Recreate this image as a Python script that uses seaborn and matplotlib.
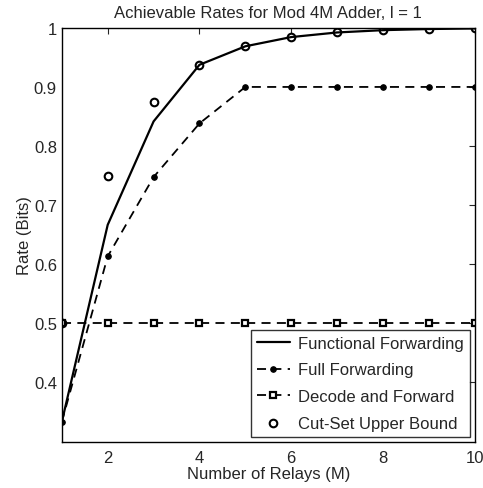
import numpy as np
import pandas as pd
import seaborn as sns
import matplotlib.pyplot as plt

# Data
relays = [1, 2, 3, 4, 5, 6, 7, 8, 9, 10]
functional = [0.3333, 0.6667, 0.8417, 0.9375, 0.9688, 0.9844, 0.9922, 0.9961, 0.9980, 0.9990]
full_fwd = [0.3333, 0.6133, 0.7475, 0.8383, 0.9, 0.9, 0.9, 0.9, 0.9, 0.9]
decode_fwd = [0.5, 0.5, 0.5, 0.5, 0.5, 0.5, 0.5, 0.5, 0.5, 0.5]
cut_set = [0.5, 0.75, 0.875, 0.9375, 0.9688, 0.9844, 0.9922, 0.9961, 0.9980, 0.9990]

df = pd.DataFrame({'M': relays, 'functional': functional, 'full': full_fwd,
                   'decode': decode_fwd, 'cutset': cut_set})

sns.set_style('white')
plt.rcParams['font.family'] = ['Liberation Sans', 'DejaVu Sans']

fig = plt.figure(figsize=(4.83, 4.89), dpi=100)
ax = fig.add_axes([0.128, 0.095, 0.855, 0.846])

sns.lineplot(data=df, x='M', y='functional', ax=ax, color='black', lw=1.6,
             label='Functional Forwarding')
sns.lineplot(data=df, x='M', y='full', ax=ax, color='black', lw=1.3,
             marker='o', markersize=4, markeredgecolor='black',
             label='Full Forwarding')
ax.lines[-1].set_dashes([5, 3.5])
sns.lineplot(data=df, x='M', y='decode', ax=ax, color='black', lw=1.3,
             marker='s', markersize=4.5, markerfacecolor='white', markeredgecolor='black',
             markeredgewidth=1.6, label='Decode and Forward')
ax.lines[-1].set_dashes([5, 3.5])
sns.scatterplot(data=df, x='M', y='cutset', ax=ax, marker='o', s=30,
                facecolor='white', edgecolor='black', linewidth=1.5,
                label='Cut-Set Upper Bound')

ax.set_xlim(1, 10)
ax.set_ylim(0.3, 1)
ax.set_xticks([2, 4, 6, 8, 10])
ax.set_yticks([0.4, 0.5, 0.6, 0.7, 0.8, 0.9, 1])
ax.set_yticklabels(['0.4', '0.5', '0.6', '0.7', '0.8', '0.9', '1'])
ax.tick_params(direction='in', top=True, right=True, length=4, labelsize=12, width=0.8)
ax.tick_params(axis='x', pad=6)
for s in ax.spines.values():
    s.set_color('black')
    s.set_linewidth(1.0)

ax.set_xlabel('Number of Relays (M)', fontsize=12, labelpad=1)
ax.set_ylabel('Rate (Bits)', fontsize=12, labelpad=1)
ax.set_title('Achievable Rates for Mod 4M Adder, l = 1', fontsize=12, pad=8)

leg = ax.legend(loc='lower right', fontsize=12, frameon=True, fancybox=False,
                edgecolor='black', borderaxespad=0.3, handlelength=2.0,
                handletextpad=0.5, labelspacing=0.7, borderpad=0.35)
leg.get_frame().set_linewidth(1.0)

fig.savefig('out.png', dpi=100)
